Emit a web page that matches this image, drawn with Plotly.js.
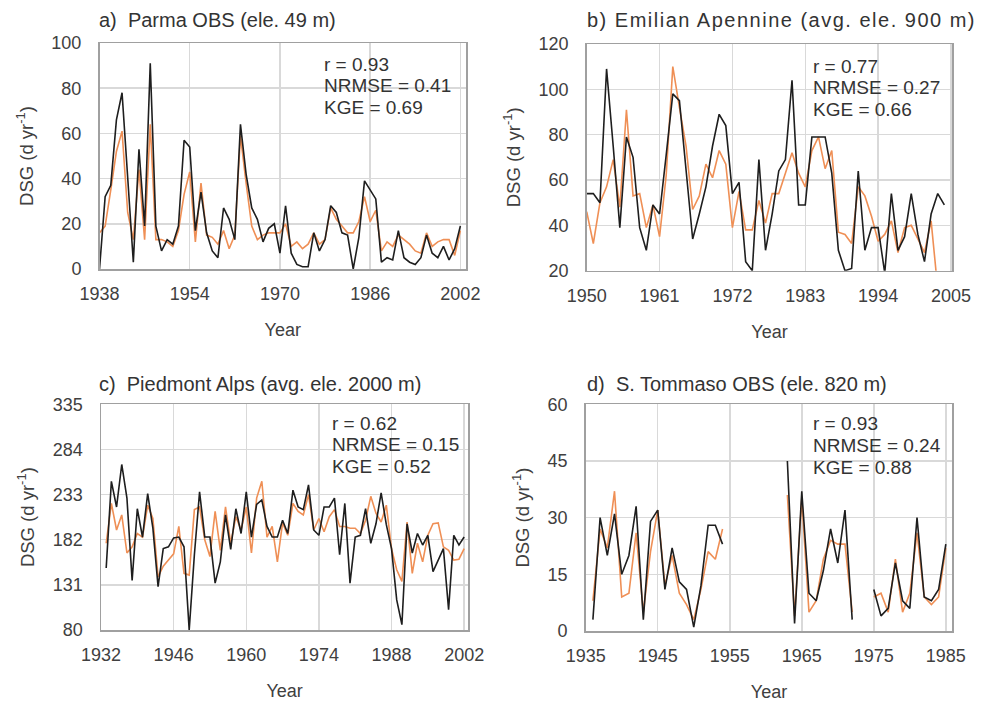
<!DOCTYPE html>
<html>
<head>
<meta charset="utf-8">
<script src="https://cdn.plot.ly/plotly-3.0.1.min.js"></script>
<style>html,body{margin:0;padding:0;background:#fff;}#chart{width:984px;height:707px;}</style>
</head>
<body>
<div id="chart"></div>
<script>
// ---------- data ----------
const yearsA = [];
for (let y = 1938; y <= 2002; y++) yearsA.push(y);
const parmaObs = [0,32,37,66,78,40,3,53,19,91,
  19,8,13,11,19,57,54,17,34,16,
  8,5,27,22,13,64,42,27,22,12,
  18,20,7,28,7,2,1,1,16,8,
  13,28,25,16,15,0,14,39,35,31,
  3,5,4,17,5,3,2,5,15,7,
  5,10,4,9,19];
const parmaSim = [16,19,35,52,61,25,13,44,13,64,
  13,13,12,10,17,33,43,12,38,15,
  14,11,17,9,15,59,38,19,13,15,
  16,16,16,20,10,12,9,11,16,11,
  13,27,22,19,16,16,21,32,21,26,
  8,12,10,15,13,11,8,7,16,10,
  12,13,13,6,17];

const yearsB = [];
for (let y = 1950; y <= 2004; y++) yearsB.push(y);
const emilianObs = [54,54,50,109,75,39,79,70,39,29,
  49,45,71,98,95,63,34,45,57,75,
  89,84,54,59,24,20,69,29,45,64,
  69,104,49,49,79,79,79,63,29,20,
  21,64,29,39,39,19,54,29,35,54,
  36,24,45,54,49];
const emilianSim = [46,32,50,57,69,48,91,53,54,39,
  49,35,62,110,92,75,47,53,67,61,
  73,67,39,55,38,38,51,41,54,54,
  63,72,63,57,73,79,65,73,37,36,
  32,57,53,44,33,36,42,28,39,40,
  34,28,42,12,null];

const yearsC = [];
for (let y = 1933; y <= 2002; y++) yearsC.push(y);
const piedmontObs = [150,248,219,267,229,136,217,185,234,195,
  129,172,174,184,185,174,80,165,236,185,
  185,133,157,210,171,217,189,236,185,222,
  227,197,185,185,204,189,238,219,216,244,
  193,187,219,219,229,165,223,133,185,187,
  217,178,200,235,199,172,114,86,200,167,
  189,176,187,146,159,172,103,187,176,185];
const piedmontSim = [178,223,193,210,167,174,189,185,221,206,
  140,152,159,166,197,144,142,216,219,182,
  163,214,170,219,178,208,193,219,167,229,
  248,185,197,157,201,187,223,214,210,233,
  193,206,191,208,216,197,197,195,195,189,
  204,231,212,202,221,172,148,135,202,144,
  178,157,187,200,201,174,170,159,160,172];

const yearsD = [];
for (let y = 1936; y <= 1985; y++) yearsD.push(y);
const tommasoObs = [3,30,20,31,15,20,33,3,29,32,
  11,22,13,11,1,12,28,28,23,null,
  null,null,null,null,null,null,null,45,2,37,
  10,8,16,27,18,32,3,null,null,11,
  4,6,18,8,6,30,9,8,11,23];
const tommasoSim = [8,27,22,37,9,10,26,5,21,32,
  12,20,10,7,3,11,21,19,27,null,
  null,null,null,null,null,null,null,36,4,35,
  5,8,19,24,23,23,5,null,null,9,
  10,5,19,5,10,26,9,7,9,22];

const ticksA = [1938,1954,1970,1986,2002];
const ticksB = [1950,1961,1972,1983,1994,2005];
const ticksC = [1932,1946,1960,1974,1988,2002];
const ticksD = [1935,1945,1955,1965,1975,1985];
const yTicksA = [0,20,40,60,80,100];
const yTicksB = [20,40,60,80,100,120];
const yTicksC = [80,131,182,233,284,335];
const yTicksD = [0,15,30,45,60];

const panelTitles = ['a)\u00A0\u00A0Parma OBS (ele. 49 m)',
  '<span style="letter-spacing:1.5px">b) Emilian Apennine (avg. ele. 900 m)</span>',
  'c)\u00A0\u00A0Piedmont Alps (avg. ele. 2000 m)', 'd)\u00A0\u00A0S. Tommaso OBS (ele. 820 m)'];
const stats = [['r = 0.93','NRMSE = 0.41','KGE = 0.69'],
  ['r = 0.77','NRMSE = 0.27','KGE = 0.66'],
  ['r = 0.62','NRMSE = 0.15','KGE = 0.52'],
  ['r = 0.93','NRMSE = 0.24','KGE = 0.88']];

// ---------- styling ----------
const W = 984, H = 707;
const FONT = 'Liberation Sans, Arial, sans-serif';
const TXT = '#404040';
const BLACK = '#1e1e1e', ORANGE = '#EF8F55';
const px = x => x / W, py = y => 1 - y / H;

function line(x, y, color, xa, ya) {
  return {x: x, y: y, type: 'scatter', mode: 'lines', xaxis: xa, yaxis: ya,
    line: {color: color, width: 1.6}, connectgaps: false, hoverinfo: 'x+y', showlegend: false};
}
const data = [
  line(yearsA, parmaSim, ORANGE, 'x', 'y'), line(yearsA, parmaObs, BLACK, 'x', 'y'),
  line(yearsB, emilianSim, ORANGE, 'x2', 'y2'), line(yearsB, emilianObs, BLACK, 'x2', 'y2'),
  line(yearsC, piedmontSim, ORANGE, 'x3', 'y3'), line(yearsC, piedmontObs, BLACK, 'x3', 'y3'),
  line(yearsD, tommasoSim, ORANGE, 'x4', 'y4'), line(yearsD, tommasoObs, BLACK, 'x4', 'y4')
];

function xax(dom, range, ticks, anchor) {
  return {domain: dom, range: range, tickvals: ticks, ticktext: ticks.map(String), anchor: anchor,
    showgrid: true, gridcolor: '#d9d9d9', gridwidth: 1.5, zeroline: false,
    showline: true, mirror: true, linecolor: '#a0a0a0', linewidth: 1.5,
    ticks: '', ticklabelstandoff: 8, tickfont: {family: FONT, size: 18, color: TXT},
    title: {text: 'Year', font: {family: FONT, size: 18, color: TXT}, standoff: 20}};
}
function yax(dom, range, ticks, anchor) {
  return {domain: dom, range: range, tickvals: ticks, ticktext: ticks.map(String), anchor: anchor,
    showgrid: true, gridcolor: '#d9d9d9', gridwidth: 1.5, zeroline: false,
    showline: true, mirror: true, linecolor: '#a0a0a0', linewidth: 1.5,
    ticks: '', ticklabelstandoff: 13, tickfont: {family: FONT, size: 18, color: TXT},
    title: {text: 'DSG (d yr<sup>-1</sup>)', font: {family: FONT, size: 18.5, color: TXT}, standoff: 13}};
}

const boxes = [
  {x0: 99.5, x1: 466, y0: 43, y1: 269},
  {x0: 586.7, x1: 952.3, y0: 44, y1: 270.7},
  {x0: 101, x1: 468.3, y0: 404.3, y1: 630},
  {x0: 585.7, x1: 952.3, y0: 404.3, y1: 631}
];
const dx = b => [px(b.x0), px(b.x1)];
const dy = b => [py(b.y1), py(b.y0)];

const annotations = [];
const titlePos = [[97, 20], [585, 20], [97, 384], [585, 384]];
panelTitles.forEach((t, i) => annotations.push({
  text: t, xref: 'paper', yref: 'paper', x: px(titlePos[i][0]), y: py(titlePos[i][1]),
  xanchor: 'left', yanchor: 'middle', showarrow: false,
  font: {family: FONT, size: 20, color: '#333333'}}));
const statPos = [[322, 64], [811, 66], [330, 423], [811, 424]];
stats.forEach((s, i) => s.forEach((t, j) => annotations.push({
  text: t, xref: 'paper', yref: 'paper', x: px(statPos[i][0]), y: py(statPos[i][1] + 21.6 * j),
  xanchor: 'left', yanchor: 'middle', showarrow: false,
  font: {family: FONT, size: 19, color: '#333333'}})));

const layout = {
  width: W, height: H, margin: {l: 0, r: 0, t: 0, b: 0},
  paper_bgcolor: '#ffffff', plot_bgcolor: '#ffffff', showlegend: false,
  xaxis: xax(dx(boxes[0]), [1938, 2003], ticksA, 'y'),
  yaxis: yax(dy(boxes[0]), [0, 100], yTicksA, 'x'),
  xaxis2: xax(dx(boxes[1]), [1950, 2005.2], ticksB, 'y2'),
  yaxis2: yax(dy(boxes[1]), [20, 120], yTicksB, 'x2'),
  xaxis3: xax(dx(boxes[2]), [1932, 2002.8], ticksC, 'y3'),
  yaxis3: yax(dy(boxes[2]), [80, 335], yTicksC, 'x3'),
  xaxis4: xax(dx(boxes[3]), [1935, 1985.9], ticksD, 'y4'),
  yaxis4: yax(dy(boxes[3]), [0, 60], yTicksD, 'x4'),
  annotations: annotations
};
Plotly.newPlot('chart', data, layout, {displayModeBar: false, staticPlot: true});
</script>
</body>
</html>
